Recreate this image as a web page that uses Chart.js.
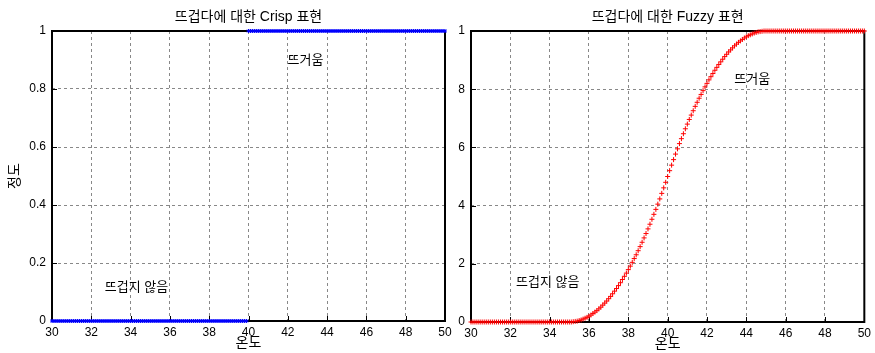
<!DOCTYPE html>
<html>
<head>
<meta charset="utf-8">
<script src="https://cdn.jsdelivr.net/npm/chart.js@4"></script>
<style>
  html, body { margin: 0; padding: 0; background: #fff; }
  #wrap { position: relative; width: 875px; height: 353px; }
  canvas { position: absolute; left: 0; top: 0; }
</style>
</head>
<body>
<div id="wrap">
  <canvas id="crisp" width="875" height="353"></canvas>
  <canvas id="fuzzy" width="875" height="353"></canvas>
</div>
<script>
// Temperature samples (°C)
const temps = [
  30,30.1,30.2,30.3,30.4,30.5,30.6,30.7,30.8,30.9,
  31,31.1,31.2,31.3,31.4,31.5,31.6,31.7,31.8,31.9,
  32,32.1,32.2,32.3,32.4,32.5,32.6,32.7,32.8,32.9,
  33,33.1,33.2,33.3,33.4,33.5,33.6,33.7,33.8,33.9,
  34,34.1,34.2,34.3,34.4,34.5,34.6,34.7,34.8,34.9,
  35,35.1,35.2,35.3,35.4,35.5,35.6,35.7,35.8,35.9,
  36,36.1,36.2,36.3,36.4,36.5,36.6,36.7,36.8,36.9,
  37,37.1,37.2,37.3,37.4,37.5,37.6,37.7,37.8,37.9,
  38,38.1,38.2,38.3,38.4,38.5,38.6,38.7,38.8,38.9,
  39,39.1,39.2,39.3,39.4,39.5,39.6,39.7,39.8,39.9,
  40,40.1,40.2,40.3,40.4,40.5,40.6,40.7,40.8,40.9,
  41,41.1,41.2,41.3,41.4,41.5,41.6,41.7,41.8,41.9,
  42,42.1,42.2,42.3,42.4,42.5,42.6,42.7,42.8,42.9,
  43,43.1,43.2,43.3,43.4,43.5,43.6,43.7,43.8,43.9,
  44,44.1,44.2,44.3,44.4,44.5,44.6,44.7,44.8,44.9,
  45,45.1,45.2,45.3,45.4,45.5,45.6,45.7,45.8,45.9,
  46,46.1,46.2,46.3,46.4,46.5,46.6,46.7,46.8,46.9,
  47,47.1,47.2,47.3,47.4,47.5,47.6,47.7,47.8,47.9,
  48,48.1,48.2,48.3,48.4,48.5,48.6,48.7,48.8,48.9,
  49,49.1,49.2,49.3,49.4,49.5,49.6,49.7,49.8,49.9,
  50
];

// Crisp membership of "hot": 0 below 40 °C, 1 from 40 °C up
const crispDegree = [
  0,0,0,0,0,0,0,0,0,0,
  0,0,0,0,0,0,0,0,0,0,
  0,0,0,0,0,0,0,0,0,0,
  0,0,0,0,0,0,0,0,0,0,
  0,0,0,0,0,0,0,0,0,0,
  0,0,0,0,0,0,0,0,0,0,
  0,0,0,0,0,0,0,0,0,0,
  0,0,0,0,0,0,0,0,0,0,
  0,0,0,0,0,0,0,0,0,0,
  0,0,0,0,0,0,0,0,0,0,
  1,1,1,1,1,1,1,1,1,1,
  1,1,1,1,1,1,1,1,1,1,
  1,1,1,1,1,1,1,1,1,1,
  1,1,1,1,1,1,1,1,1,1,
  1,1,1,1,1,1,1,1,1,1,
  1,1,1,1,1,1,1,1,1,1,
  1,1,1,1,1,1,1,1,1,1,
  1,1,1,1,1,1,1,1,1,1,
  1,1,1,1,1,1,1,1,1,1,
  1,1,1,1,1,1,1,1,1,1,
  1
];

// Fuzzy membership of "hot": smooth S-shaped rise between 35 and 45 °C
const fuzzyDegree = [
  0,0,0,0,0,0,0,0,0,0,
  0,0,0,0,0,0,0,0,0,0,
  0,0,0,0,0,0,0,0,0,0,
  0,0,0,0,0,0,0,0,0,0,
  0,0,0,0,0,0,0,0,0,0,
  0,0,0.001,0.002,0.003,0.005,0.007,0.010,0.013,0.016,
  0.020,0.024,0.029,0.034,0.039,0.045,0.051,0.058,0.065,0.072,
  0.080,0.088,0.097,0.106,0.115,0.125,0.135,0.146,0.157,0.168,
  0.180,0.192,0.205,0.218,0.231,0.245,0.259,0.274,0.289,0.304,
  0.320,0.336,0.353,0.370,0.387,0.405,0.423,0.442,0.461,0.480,
  0.500,0.520,0.539,0.558,0.577,0.595,0.613,0.630,0.647,0.664,
  0.680,0.696,0.711,0.726,0.741,0.755,0.769,0.782,0.795,0.808,
  0.820,0.832,0.843,0.854,0.865,0.875,0.885,0.894,0.903,0.912,
  0.920,0.928,0.935,0.942,0.949,0.955,0.961,0.966,0.971,0.976,
  0.980,0.984,0.987,0.990,0.993,0.995,0.997,0.998,0.999,1.000,
  1,1,1,1,1,1,1,1,1,1,
  1,1,1,1,1,1,1,1,1,1,
  1,1,1,1,1,1,1,1,1,1,
  1,1,1,1,1,1,1,1,1,1,
  1,1,1,1,1,1,1,1,1,1,
  1
];

const xTicks = [30,32,34,36,38,40,42,44,46,48,50];
const crispYTicks = ['0','0.2','0.4','0.6','0.8','1'];
const fuzzyYTicks = ['0','2','4','6','8','1'];

const KFONT = '"Liberation Sans", "Noto Sans CJK KR", sans-serif';

// Frame, inward tick marks, titles and labels
const decorations = {
  id: 'decorations',
  beforeDatasetsDraw(chart, args, opts) {
    const { ctx, chartArea: a, scales } = chart;
    ctx.save();
    ctx.strokeStyle = '#000';
    ctx.lineWidth = 1;
    ctx.beginPath();
    xTicks.forEach(v => {
      const px = Math.round(scales.x.getPixelForValue(v)) + 0.5;
      ctx.moveTo(px, a.bottom); ctx.lineTo(px, a.bottom - 5);
    });
    for (let i = 0; i <= 5; i++) {
      const py = Math.round(scales.y.getPixelForValue(i / 5)) + 0.5;
      ctx.moveTo(a.left, py); ctx.lineTo(a.left + 5, py);
    }
    ctx.stroke();
    ctx.lineWidth = 2;
    ctx.strokeRect(a.left, a.top, a.right - a.left, a.bottom - a.top);
    ctx.restore();
  },
  afterDraw(chart, args, opts) {
    const { ctx, chartArea: a, scales } = chart;
    const cx = (a.left + a.right) / 2;
    ctx.save();
    ctx.fillStyle = '#000';
    ctx.textAlign = 'center';
    ctx.textBaseline = 'middle';
    ctx.font = '14px ' + KFONT;
    ctx.fillText(opts.title, cx, a.top - 14);
    ctx.fillText('온도', cx, a.bottom + 22);
    if (opts.yLabel) {
      ctx.save();
      ctx.translate(15, (a.top + a.bottom) / 2);
      ctx.rotate(-Math.PI / 2);
      ctx.fillText(opts.yLabel, 0, 0);
      ctx.restore();
    }
    ctx.font = '13px ' + KFONT;
    opts.notes.forEach(n => {
      ctx.fillText(n.text, scales.x.getPixelForValue(n.x), scales.y.getPixelForValue(n.y));
    });
    ctx.restore();
  }
};

function makeChart(id, values, color, style, radius, yTickLabels, pad, opts) {
  return new Chart(document.getElementById(id), {
    type: 'scatter',
    data: {
      datasets: [{
        data: temps.map((t, i) => ({ x: t, y: values[i] })),
        showLine: false,
        pointStyle: style,
        pointRadius: radius,
        pointHoverRadius: radius,
        borderColor: color,
        backgroundColor: color,
        borderWidth: 1,
        clip: false
      }]
    },
    options: {
      responsive: false,
      animation: false,
      events: [],
      layout: { padding: pad },
      plugins: { legend: { display: false }, tooltip: { enabled: false }, decorations: opts },
      scales: {
        x: {
          type: 'linear', min: 30, max: 50,
          afterBuildTicks: s => { s.ticks = xTicks.map(v => ({ value: v })); },
          afterFit: s => { s.height = 31; },
          ticks: { color: '#000', font: { size: 12, family: KFONT }, padding: 4, maxRotation: 0,
                   callback: v => String(v) },
          grid: { color: '#888', drawTicks: false, lineWidth: 1 },
          border: { display: false, dash: [3, 3] }
        },
        y: {
          min: 0, max: 1,
          afterBuildTicks: s => { s.ticks = [0, 0.2, 0.4, 0.6, 0.8, 1].map(v => ({ value: v })); },
          afterFit: s => { s.width = 40; },
          ticks: { color: '#000', font: { size: 12, family: KFONT }, padding: 6,
                   callback: (v, i) => yTickLabels[i] },
          grid: { color: '#888', drawTicks: false, lineWidth: 1 },
          border: { display: false, dash: [3, 3] }
        }
      }
    },
    plugins: [decorations]
  });
}

makeChart('crisp', crispDegree, '#0000ff', 'star', 2, crispYTicks,
  { left: 12, right: 430, top: 31, bottom: 1 },
  { title: '뜨겁다에 대한 Crisp 표현', yLabel: '정도',
    notes: [{ text: '뜨거움', x: 42.9, y: 0.9 }, { text: '뜨겁지 않음', x: 34.3, y: 0.117 }] });

makeChart('fuzzy', fuzzyDegree, '#ff0000', 'cross', 2.5, fuzzyYTicks,
  { left: 431, right: 10, top: 31, bottom: 0 },
  { title: '뜨겁다에 대한 Fuzzy 표현', yLabel: null,
    notes: [{ text: '뜨거움', x: 44.3, y: 0.835 }, { text: '뜨겁지 않음', x: 33.9, y: 0.137 }] });
</script>
</body>
</html>
